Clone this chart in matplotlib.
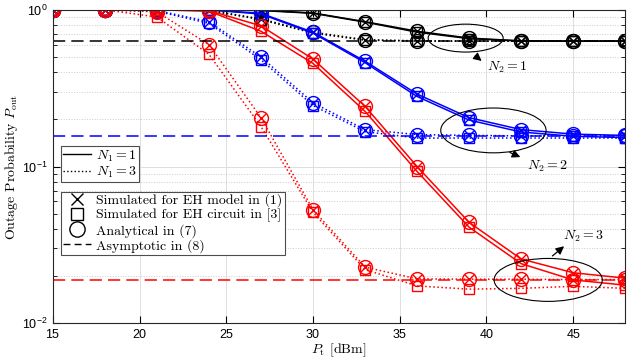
import numpy as np
import matplotlib.pyplot as plt
from matplotlib.lines import Line2D
from matplotlib.patches import Ellipse

plt.rcParams['font.family'] = ['Liberation Sans', 'DejaVu Sans']
plt.rcParams['mathtext.fontset'] = 'cm'
plt.rcParams['axes.unicode_minus'] = False
plt.rcParams['axes.formatter.use_mathtext'] = True

# transmit power (dBm)
P_t = [15, 18, 21, 24, 27, 30, 33, 36, 39, 42, 45, 48]

# N2 = 1 (black)
k_n1_ana = [1, 1, 1, 1, 0.995, 0.955, 0.84, 0.73, 0.66, 0.634, 0.632, 0.632]
k_n1_cir = [1, 1, 1, 1, 0.99, 0.95, 0.835, 0.72, 0.655, 0.632, 0.631, 0.631]
k_n3_ana = [1, 1, 1, 0.995, 0.875, 0.72, 0.645, 0.634, 0.632, 0.632, 0.632, 0.632]
k_n3_cir = [1, 1, 1, 0.99, 0.865, 0.71, 0.64, 0.632, 0.631, 0.631, 0.631, 0.631]
# N2 = 2 (blue)
b_n1_ana = [1, 1, 1, 1, 0.95, 0.72, 0.47, 0.29, 0.205, 0.172, 0.161, 0.158]
b_n1_cir = [1, 1, 1, 1, 0.94, 0.71, 0.46, 0.28, 0.198, 0.166, 0.156, 0.153]
b_n3_ana = [1, 1, 0.99, 0.84, 0.5, 0.255, 0.172, 0.16, 0.158, 0.157, 0.157, 0.157]
b_n3_cir = [1, 1, 0.98, 0.82, 0.48, 0.245, 0.167, 0.152, 0.152, 0.152, 0.152, 0.152]
# N2 = 3 (red)
r_n1_ana = [1, 1, 1, 0.99, 0.79, 0.485, 0.242, 0.1, 0.044, 0.0257, 0.021, 0.0194]
r_n1_cir = [1, 1, 1, 0.98, 0.73, 0.455, 0.225, 0.093, 0.041, 0.024, 0.0189, 0.0175]
r_n3_ana = [1, 1, 0.97, 0.6, 0.205, 0.053, 0.0228, 0.0192, 0.0191, 0.0191, 0.019, 0.019]
r_n3_cir = [1, 1, 0.9, 0.52, 0.18, 0.051, 0.022, 0.0173, 0.0165, 0.0167, 0.0172, 0.0167]

# asymptotic floors
asym = {'k': 0.632, 'b': 0.156, 'r': 0.0189}

fig = plt.figure(figsize=(6.29, 3.64), dpi=100)
ax = fig.add_axes([0.084, 0.112, 0.910, 0.861])
ax.set_yscale('log')

curves = [
    ('k', '-', k_n1_ana, k_n1_cir), ('k', ':', k_n3_ana, k_n3_cir),
    ('b', '-', b_n1_ana, b_n1_cir), ('b', ':', b_n3_ana, b_n3_cir),
    ('r', '-', r_n1_ana, r_n1_cir), ('r', ':', r_n3_ana, r_n3_cir),
]
for c, ls, ana, cir in curves:
    ax.plot(P_t, ana, color=c, ls=ls, lw=1.1, marker='x', ms=7, mew=1.0)
    ax.plot(P_t, cir, color=c, ls=ls, lw=1.1, marker='s', ms=7.5, mfc='none', mew=1.0)
    ax.plot(P_t, ana, color=c, ls='none', marker='o', ms=10, mfc='none', mew=1.0)

for c, v in asym.items():
    ax.plot([P_t[0], P_t[-1]], [v, v], color=c, ls=(0, (8, 4)), lw=1.1)

ax.set_xlim(15, 48)
ax.set_ylim(1e-2, 1.0)
ax.set_xticks([15, 20, 25, 30, 35, 40, 45])
ax.tick_params(which='both', direction='in', top=True, right=True, labelsize=9)
ax.tick_params(which='major', length=5)
ax.tick_params(which='minor', length=3)
ax.grid(which='major', color='0.87', lw=0.7)
ax.grid(which='minor', axis='y', color='0.8', ls=':', lw=0.7)
ax.set_axisbelow(True)
for s in ax.spines.values():
    s.set_color('0.15')

ax.set_xlabel(r'$P_{\rm t}$ [dBm]', fontsize=10, labelpad=0, family='cmr10')
ax.set_ylabel(r'Outage Probability $P_{\rm out}$', fontsize=10, labelpad=2, family='cmr10')

# legends
leg_font = {'family': 'cmr10', 'size': 10}
h1 = [Line2D([], [], color='k', ls='-', lw=1.0),
      Line2D([], [], color='k', ls=':', lw=1.0)]
leg1 = ax.legend(h1, [r'$N_1 = 1$', r'$N_1 = 3$'], loc='upper left',
                 bbox_to_anchor=(0.014, 0.565), prop=leg_font, fancybox=False,
                 edgecolor='0.3', framealpha=1, borderpad=0.15, handlelength=2.0,
                 labelspacing=0.1, handletextpad=0.4, borderaxespad=0)
leg1.get_frame().set_linewidth(0.8)
ax.add_artist(leg1)

h2 = [Line2D([], [], color='k', ls='none', marker='x', ms=9, mew=1.0),
      Line2D([], [], color='k', ls='none', marker='s', ms=9, mfc='none', mew=1.0),
      Line2D([], [], color='k', ls='none', marker='o', ms=11, mfc='none', mew=1.0),
      Line2D([], [], color='k', ls=(0, (5, 3)), lw=1.0)]
lab2 = ['Simulated for EH model in (1)', 'Simulated for EH circuit in [3]',
        'Analytical in (7)', 'Asymptotic in (8)']
leg2 = ax.legend(h2, lab2, loc='upper left', bbox_to_anchor=(0.014, 0.42),
                 prop=leg_font, fancybox=False, edgecolor='0.3', framealpha=1,
                 borderpad=0.15, handlelength=2.0, labelspacing=0.1,
                 handletextpad=0.4, borderaxespad=0)
leg2.get_frame().set_linewidth(0.8)

# ellipses and arrows for N2 groups
fig.canvas.draw()
to_ax = lambda x, y: ax.transAxes.inverted().transform(ax.transData.transform((x, y)))
for (x, y), w, h in [((38.8, 0.66), 0.131, 0.089),
                     ((40.4, 0.17), 0.184, 0.143),
                     ((43.56, 0.0189), 0.189, 0.137)]:
    ax.add_patch(Ellipse(to_ax(x, y), w, h, transform=ax.transAxes,
                         fill=False, ec='k', lw=0.8, zorder=5))

arrows = [((39.23, 0.522), (39.85, 0.46), (40.05, 0.43), r'$N_2 = 1$'),
          ((41.2, 0.125), (42.1, 0.113), (42.35, 0.101), r'$N_2 = 2$'),
          ((43.68, 0.0262), (44.6, 0.0318), (44.43, 0.036), r'$N_2 = 3$')]
for start, end, tpos, txt in arrows:
    ax.annotate('', xy=end, xytext=start,
                arrowprops=dict(arrowstyle='-|>', color='k', lw=0.9, mutation_scale=12),
                zorder=6)
    ax.text(tpos[0], tpos[1], txt, fontsize=10, va='center', ha='left', zorder=6)

fig.savefig('out.png', dpi=100)
